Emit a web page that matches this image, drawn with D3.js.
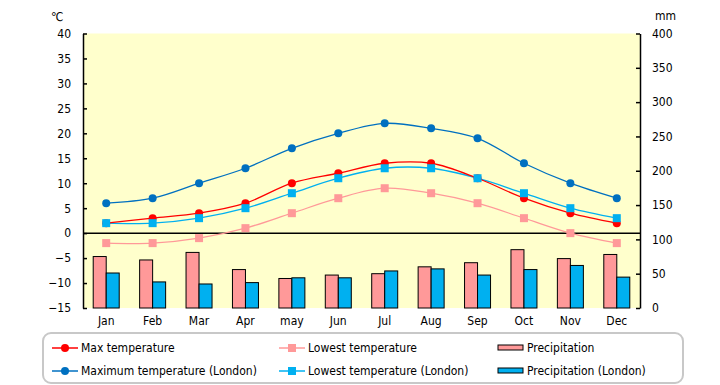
<!DOCTYPE html>
<html>
<head>
<meta charset="utf-8">
<script src="https://cdn.jsdelivr.net/npm/d3@7"></script>
<style>
  body { margin: 0; background: #fff; }
  svg text { font-family: "DejaVu Sans Condensed", "DejaVu Sans", sans-serif; fill: #000; }
</style>
</head>
<body>
<div id="chart"></div>
<script>
// monthly values
const months = ["Jan", "Feb", "Mar", "Apr", "may", "Jun", "Jul", "Aug", "Sep", "Oct", "Nov", "Dec"];
const maxTemp = [2, 3, 4, 6, 10, 12, 14, 14, 11, 7, 4, 2];
const lowTemp = [-2, -2, -1, 1, 4, 7, 9, 8, 6, 3, 0, -2];
const maxTempLondon = [6, 7, 10, 13, 17, 20, 22, 21, 19, 14, 10, 7];
const lowTempLondon = [2, 2, 3, 5, 8, 11, 13, 13, 11, 8, 5, 3];
const precip = [75, 70, 81, 56, 43, 48, 50, 60, 66, 85, 72, 78];
const precipLondon = [51, 38, 35, 37, 44, 44, 54, 57, 48, 56, 62, 45];
const tempTicks = [-15, -10, -5, 0, 5, 10, 15, 20, 25, 30, 35, 40];
const mmTicks = [0, 50, 100, 150, 200, 250, 300, 350, 400];

const width = 720, height = 385;
const plotL = 83, plotR = 640, plotT = 33.5, plotB = 308;

const svg = d3.select("#chart").append("svg")
  .attr("width", width)
  .attr("height", height);

const x = d3.scaleBand().domain(months).range([plotL, plotR]);
const yT = d3.scaleLinear().domain([-15, 40]).range([plotB, plotT]);
const yP = d3.scaleLinear().domain([0, 400]).range([plotB, plotT]);

// plot background
svg.append("rect")
  .attr("x", plotL).attr("y", plotT)
  .attr("width", plotR - plotL).attr("height", plotB - plotT)
  .attr("fill", "#ffffcc");

// precipitation bars
const barW = 13;
svg.append("g").selectAll("rect")
  .data(precip)
  .join("rect")
  .attr("x", (d, i) => x(months[i]) + x.bandwidth() / 2 - barW)
  .attr("y", d => yP(d))
  .attr("width", barW)
  .attr("height", d => yP(0) - yP(d))
  .attr("fill", "#ff9999")
  .attr("stroke", "#000").attr("stroke-width", 1);

svg.append("g").selectAll("rect")
  .data(precipLondon)
  .join("rect")
  .attr("x", (d, i) => x(months[i]) + x.bandwidth() / 2)
  .attr("y", d => yP(d))
  .attr("width", barW)
  .attr("height", d => yP(0) - yP(d))
  .attr("fill", "#00b0f0")
  .attr("stroke", "#000").attr("stroke-width", 1);

// zero line
svg.append("line")
  .attr("x1", plotL).attr("x2", plotR)
  .attr("y1", yT(0)).attr("y2", yT(0))
  .attr("stroke", "#000").attr("stroke-width", 1.5);

// temperature lines
const cx = i => x(months[i]) + x.bandwidth() / 2;
const line = d3.line()
  .x((d, i) => cx(i))
  .y(d => yT(d))
  .curve(d3.curveCatmullRom.alpha(0.5));

const series = [
  { data: lowTemp, color: "#ff9999", marker: "square" },
  { data: maxTempLondon, color: "#0070c0", marker: "circle" },
  { data: lowTempLondon, color: "#00b0f0", marker: "square" },
  { data: maxTemp, color: "#ff0000", marker: "circle" }
];

function drawMarker(g, type, color, px, py) {
  if (type === "circle") {
    g.append("circle").attr("cx", px).attr("cy", py).attr("r", 4).attr("fill", color);
  } else {
    g.append("rect").attr("x", px - 4).attr("y", py - 4).attr("width", 8).attr("height", 8).attr("fill", color);
  }
}

series.forEach(s => {
  svg.append("path")
    .datum(s.data)
    .attr("d", line)
    .attr("fill", "none")
    .attr("stroke", s.color)
    .attr("stroke-width", 1.3);
});
// red markers sit under the London squares
[series[0], series[1], series[3], series[2]].forEach(s => {
  const g = svg.append("g");
  s.data.forEach((d, i) => drawMarker(g, s.marker, s.color, cx(i), yT(d)));
});

// axes
const axisL = svg.append("g")
  .attr("transform", `translate(${plotL},0)`)
  .call(d3.axisLeft(yT).tickValues(tempTicks).tickSizeInner(-4).tickSizeOuter(0).tickPadding(12));
const axisR = svg.append("g")
  .attr("transform", `translate(${plotR},0)`)
  .call(d3.axisRight(yP).tickValues(mmTicks).tickSizeInner(-4).tickSizeOuter(0).tickPadding(12));
[axisL, axisR].forEach(a => {
  a.select(".domain").attr("stroke", "#000").attr("stroke-width", 1.5);
  a.selectAll("line").attr("stroke", "#000").attr("stroke-width", 1.5);
  a.selectAll("text").style("font-size", "12px");
});

svg.append("g").selectAll("text")
  .data(months)
  .join("text")
  .attr("x", d => x(d) + x.bandwidth() / 2)
  .attr("y", 325)
  .attr("text-anchor", "middle")
  .style("font-size", "12px")
  .text(d => d);

svg.append("text").attr("x", 51).attr("y", 21).style("font-size", "12px").text("℃");
svg.append("text").attr("x", 655).attr("y", 20).style("font-size", "12px").text("mm");

// legend
svg.append("rect")
  .attr("x", 43).attr("y", 333)
  .attr("width", 640).attr("height", 50)
  .attr("rx", 8)
  .attr("fill", "#fff")
  .attr("stroke", "#c8c8c8").attr("stroke-width", 2);

const legendItems = [
  { label: "Max temperature", color: "#ff0000", kind: "circle", lx: 52, ly: 348 },
  { label: "Maximum temperature (London)", color: "#0070c0", kind: "circle", lx: 52, ly: 371 },
  { label: "Lowest temperature", color: "#ff9999", kind: "square", lx: 279, ly: 348 },
  { label: "Lowest temperature (London)", color: "#00b0f0", kind: "square", lx: 279, ly: 371 },
  { label: "Precipitation", color: "#ff9999", kind: "bar", lx: 498, ly: 348 },
  { label: "Precipitation (London)", color: "#00b0f0", kind: "bar", lx: 498, ly: 371 }
];

const lg = svg.append("g");
legendItems.forEach(it => {
  if (it.kind === "bar") {
    lg.append("rect").attr("x", it.lx).attr("y", it.ly - 3).attr("width", 25).attr("height", 5)
      .attr("fill", it.color).attr("stroke", "#000").attr("stroke-width", 1);
  } else {
    lg.append("line").attr("x1", it.lx).attr("x2", it.lx + 26).attr("y1", it.ly).attr("y2", it.ly)
      .attr("stroke", it.color).attr("stroke-width", 1.5);
    drawMarker(lg, it.kind, it.color, it.lx + 13, it.ly);
  }
  lg.append("text")
    .attr("x", it.lx + 29).attr("y", it.ly + 4)
    .style("font-size", "12px")
    .text(it.label);
});
</script>
</body>
</html>
